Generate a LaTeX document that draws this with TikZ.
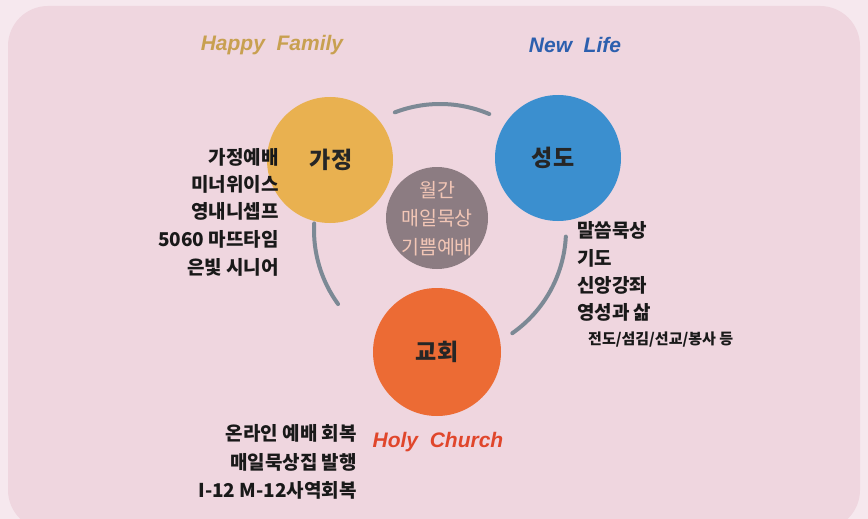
\documentclass[tikz,border=0pt]{standalone}
\usepackage{fontspec}
\setmainfont{Liberation Sans}
\newfontfamily\kr{Noto Sans CJK KR}
\definecolor{outerbg}{HTML}{F6E8EE}
\definecolor{innerbg}{HTML}{EFD6DF}
\definecolor{cfam}{HTML}{E9B150}
\definecolor{csaint}{HTML}{3B8FCF}
\definecolor{cchurch}{HTML}{EC6B34}
\definecolor{ccenter}{HTML}{8C7C82}
\definecolor{carc}{HTML}{7C8995}
\definecolor{tfam}{HTML}{C8A050}
\definecolor{tnew}{HTML}{2C5FAE}
\definecolor{tholy}{HTML}{E0462B}
\definecolor{ctext}{HTML}{F2C6B6}
\tikzset{
  bubble/.style={circle, inner sep=0pt, minimum size=#1},
  ringarc/.style={carc, line width=4pt, line cap=round},
  bigtitle/.style={font=\fontsize{21}{25}\selectfont\bfseries\itshape},
  circlabel/.style={font=\kr\fontsize{23}{27}\selectfont\bfseries, text=black!85},
  listtxt/.style={font=\kr\fontsize{19}{22}\selectfont\bfseries, text=black!90, inner sep=0pt},
  smalltxt/.style={font=\kr\fontsize{15}{18}\selectfont\bfseries, text=black!90, inner sep=0pt},
  centertxt/.style={font=\kr\fontsize{19.5}{22}\selectfont, text=ctext, inner sep=0pt},
}
\begin{document}
\begin{tikzpicture}[x=1pt,y=-1pt]
\useasboundingbox (0,0) rectangle (868,519);
\fill[outerbg] (0,0) rectangle (868,519);
\fill[innerbg, rounded corners=40pt] (8,6) rectangle (860,530);
% connecting ring segments
\coordinate (ringc) at (440,230);
\draw[ringarc] ([shift={(67:126pt)}]ringc) arc[start angle=67, end angle=111, radius=126pt];
\draw[ringarc] ([shift={(177:126pt)}]ringc) arc[start angle=177, end angle=216, radius=126pt];
\draw[ringarc] ([shift={(-55:126pt)}]ringc) arc[start angle=-55, end angle=-3, radius=126pt];
% circles
\node[bubble=126pt, fill=cfam] (fam) at (330,160) {};
\node[bubble=126pt, fill=csaint] (saint) at (558,158) {};
\node[bubble=128pt, fill=cchurch] (church) at (437,352) {};
\node[bubble=102pt, fill=ccenter] (center) at (437,218) {};
\node[circlabel] (famlbl) at (331,160) {가정};
\node[circlabel] (saintlbl) at (553,158) {성도};
\node[circlabel] (churchlbl) at (437,352) {교회};
\node[centertxt] (c1) at (437,190) {월간};
\node[centertxt] (c2) at (437,218) {매일묵상};
\node[centertxt] (c3) at (437,247) {기쁨예배};
% titles
\node[bigtitle, text=tfam] (hf) at (272,45) {Happy\ \ Family};
\node[bigtitle, text=tnew] (nl) at (575,45) {New\ \ Life};
\node[bigtitle, text=tholy] (hc) at (438,442) {Holy\ \ Church};
% left list
\node[listtxt, anchor=east] (l1) at (279,157) {가정예배};
\node[listtxt, anchor=east] (l2) at (279,184) {미너위이스};
\node[listtxt, anchor=east] (l3) at (279,211) {영내니셉프};
\node[listtxt, anchor=east] (l4) at (279,239) {5060 마뜨타임};
\node[listtxt, anchor=east] (l5) at (279,267) {은빛 시니어};
% right list
\node[listtxt, anchor=west] (r1) at (577,230) {말씀묵상};
\node[listtxt, anchor=west] (r2) at (577,258) {기도};
\node[listtxt, anchor=west] (r3) at (577,285) {신앙강좌};
\node[listtxt, anchor=west] (r4) at (577,312) {영성과 삶};
\node[smalltxt, anchor=west] (r5) at (588,340) {전도/섬김/선교/봉사 등};
% bottom list
\node[listtxt, anchor=east] (b1) at (357,433) {온라인 예배 회복};
\node[listtxt, anchor=east] (b2) at (357,462) {매일묵상집 발행};
\node[listtxt, anchor=east] (b3) at (357,490) {I-12 M-12사역회복};
\end{tikzpicture}
\end{document}
